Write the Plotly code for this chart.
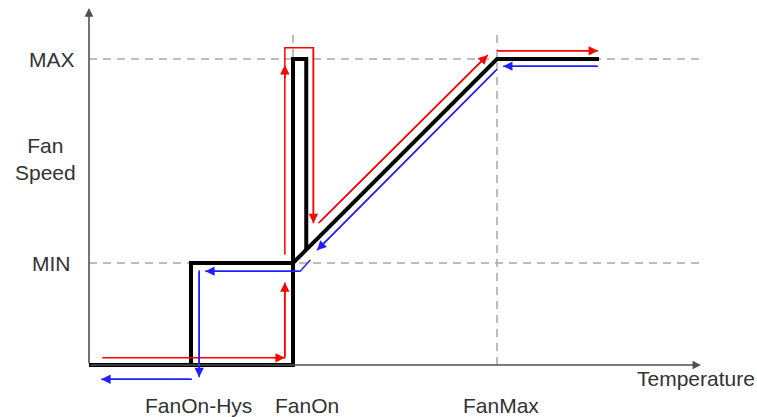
import plotly.graph_objects as go

# ---------------- data (schematic units) ----------------
temp_labels = ["FanOn-Hys", "FanOn", "FanMax"]
temp_values = [1, 2, 4]
temp_label_pos = [1.07, 2.14, 4.04]

speed_labels = ["MIN", "MAX"]
speed_values = [1, 3]

axis_x_end = 6.0
axis_y_end = 3.5
guide_top = 3.25

# black fan-speed response curve (two polylines)
curve_a_x = [0, 2, 2, 2.13, 2.13]
curve_a_y = [0, 0, 3, 3, 1.13]
curve_b_x = [1, 1, 2, 4, 5]
curve_b_y = [0, 1, 1, 3, 3]

# rising temperature path (red)
rise_paths = [
    ([0.13, 1.92, 1.92], [0.07, 0.07, 0.81]),
    ([1.92, 1.92, 2.20, 2.20], [1.08, 3.11, 3.11, 1.39]),
    ([2.25, 3.91], [1.39, 3.04]),
    ([4.00, 4.99], [3.08, 3.08]),
]
# extra arrow heads on rising path: (tail_x, tail_y, tip_x, tip_y)
rise_mid_heads = [
    (1.80, 0.07, 1.92, 0.07),
    (1.92, 2.80, 1.92, 2.94),
]

# falling temperature path (blue)
fall_paths = [
    ([4.99, 4.06], [2.93, 2.93]),
    ([4.00, 2.235], [2.90, 1.125]),
    ([2.17, 2.07, 1.14], [1.03, 0.92, 0.92]),
    ([1.08, 1.08], [0.93, -0.12]),
    ([1.01, 0.12], [-0.14, -0.14]),
]

# ---------------- figure ----------------
W, H = 757, 417
PX = 102.0           # pixels per unit
ORIGIN_X, ORIGIN_Y = 89, 365
x_range = [-ORIGIN_X / PX, (W - ORIGIN_X) / PX]
y_range = [-(H - ORIGIN_Y) / PX, ORIGIN_Y / PX]

FONT = "Liberation Sans, Arial, sans-serif"
TXT = "#333333"
GRID = "#a8a8a8"
RED = "#ff0000"
BLUE = "#2020ff"

fig = go.Figure()

# dashed guides
for v in speed_values:
    fig.add_trace(go.Scatter(x=[0, axis_x_end], y=[v, v], mode="lines",
                             line=dict(color=GRID, width=1.5, dash="8px,6px"),
                             hoverinfo="skip"))
for v in temp_values[1:]:
    fig.add_trace(go.Scatter(x=[v, v], y=[0, guide_top], mode="lines",
                             line=dict(color=GRID, width=1.5, dash="8px,6px"),
                             hoverinfo="skip"))

# black curve
for cx, cy in [(curve_a_x, curve_a_y), (curve_b_x, curve_b_y)]:
    fig.add_trace(go.Scatter(x=cx, y=cy, mode="lines",
                             line=dict(color="black", width=4),
                             hoverinfo="skip"))

annotations = []


def arrow(tx, ty, hx, hy, color, width=1.5, size=1.25):
    annotations.append(dict(
        x=hx, y=hy, ax=tx, ay=ty, xref="x", yref="y", axref="x", ayref="y",
        text="", showarrow=True, arrowhead=2, arrowsize=size,
        arrowwidth=width, arrowcolor=color, standoff=0, startstandoff=0))


for paths, color in [(rise_paths, RED), (fall_paths, BLUE)]:
    for px_, py_ in paths:
        fig.add_trace(go.Scatter(x=px_, y=py_, mode="lines",
                                 line=dict(color=color, width=1.5),
                                 hoverinfo="skip"))
        arrow(px_[-2], py_[-2], px_[-1], py_[-1], color)
for tx, ty, hx, hy in rise_mid_heads:
    arrow(tx, ty, hx, hy, RED)

# axes with arrow heads
arrow(0, 0, axis_x_end, 0, "#505050", width=1.3, size=1.3)
arrow(0, 0, 0, axis_y_end, "#505050", width=1.6, size=1.1)

# texts
tf = dict(family=FONT, size=21, color=TXT)
for lab, v in zip(speed_labels, speed_values):
    annotations.append(dict(x=-0.363, y=v, text=lab, showarrow=False,
                            xref="x", yref="y", font=tf,
                            xanchor="center", yanchor="middle"))
annotations.append(dict(x=-0.43, y=2.02, text="Fan<br>Speed", showarrow=False,
                        xref="x", yref="y", font=tf,
                        xanchor="center", yanchor="middle"))
for lab, v in zip(temp_labels, temp_label_pos):
    annotations.append(dict(x=v, y=-0.395, text=lab, showarrow=False,
                            xref="x", yref="y", font=tf,
                            xanchor="center", yanchor="middle"))
annotations.append(dict(x=5.95, y=-0.13, text="Temperature", showarrow=False,
                        xref="x", yref="y", font=tf,
                        xanchor="center", yanchor="middle"))

fig.update_layout(
    width=W, height=H,
    margin=dict(l=0, r=0, t=0, b=0),
    paper_bgcolor="white", plot_bgcolor="white",
    showlegend=False,
    xaxis=dict(range=x_range, visible=False, fixedrange=True),
    yaxis=dict(range=y_range, visible=False, fixedrange=True),
    annotations=annotations,
)

fig.write_html("out.html",
               config={"displayModeBar": False},
               post_script="document.body.style.margin='0px';"
                           "document.body.style.overflow='hidden';")
